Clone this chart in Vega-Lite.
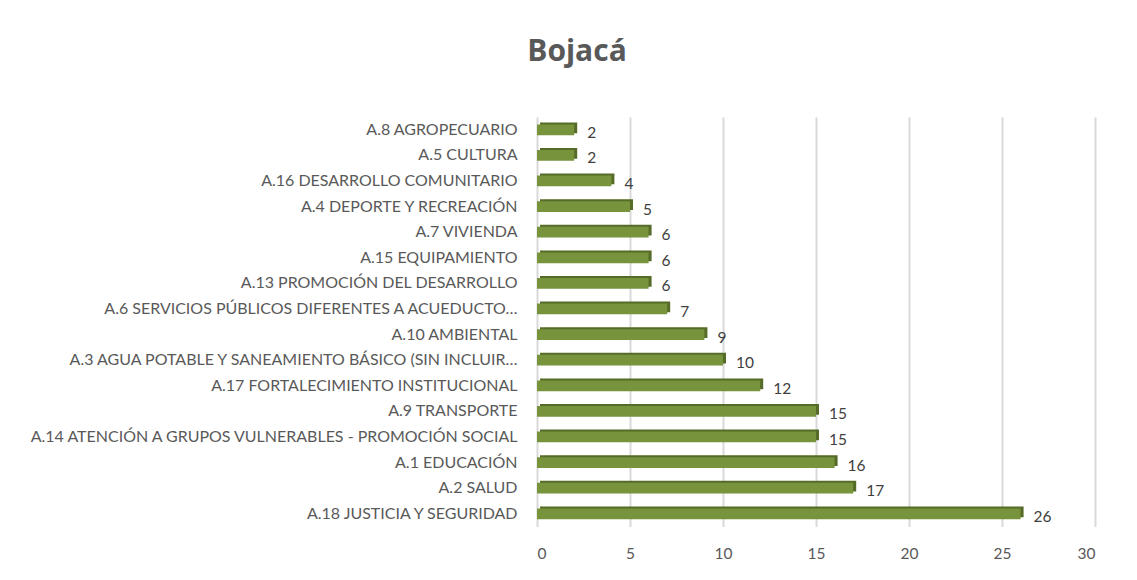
{
  "$schema": "https://vega.github.io/schema/vega-lite/v6.json",
  "autosize": {"type": "none"},
  "width": 558,
  "height": 409.6,
  "padding": {"left": 537, "top": 117, "right": 42, "bottom": 53},
  "background": "white",
  "title": {
    "text": "Bojacá",
    "fontSize": 30,
    "fontWeight": "bold",
    "color": "#595959",
    "font": "Open Sans",
    "anchor": "middle",
    "frame": "group",
    "dx": -239,
    "offset": 50
  },
  "data": {
    "values": [
      {"categoria": "A.8 AGROPECUARIO", "valor": 2},
      {"categoria": "A.5 CULTURA", "valor": 2},
      {"categoria": "A.16 DESARROLLO COMUNITARIO", "valor": 4},
      {"categoria": "A.4 DEPORTE Y RECREACIÓN", "valor": 5},
      {"categoria": "A.7 VIVIENDA", "valor": 6},
      {"categoria": "A.15 EQUIPAMIENTO", "valor": 6},
      {"categoria": "A.13 PROMOCIÓN DEL DESARROLLO", "valor": 6},
      {"categoria": "A.6 SERVICIOS PÚBLICOS DIFERENTES A ACUEDUCTO…", "valor": 7},
      {"categoria": "A.10 AMBIENTAL", "valor": 9},
      {"categoria": "A.3 AGUA POTABLE Y SANEAMIENTO BÁSICO (SIN INCLUIR…", "valor": 10},
      {"categoria": "A.17 FORTALECIMIENTO INSTITUCIONAL", "valor": 12},
      {"categoria": "A.9 TRANSPORTE", "valor": 15},
      {"categoria": "A.14 ATENCIÓN A GRUPOS VULNERABLES - PROMOCIÓN SOCIAL", "valor": 15},
      {"categoria": "A.1 EDUCACIÓN", "valor": 16},
      {"categoria": "A.2 SALUD", "valor": 17},
      {"categoria": "A.18 JUSTICIA Y SEGURIDAD", "valor": 26}
    ]
  },
  "encoding": {
    "y": {
      "field": "categoria",
      "type": "nominal",
      "sort": null,
      "scale": {"paddingInner": 0.58, "paddingOuter": 0.29},
      "axis": {
        "title": null,
        "domain": false,
        "ticks": false,
        "labelPadding": 20,
        "labelFont": "Lato",
        "labelFontSize": 16,
        "labelColor": "#595959",
        "labelLimit": 600
      }
    },
    "x": {
      "field": "valor",
      "type": "quantitative",
      "scale": {"domain": [0, 30]},
      "axis": {
        "title": null,
        "values": [0, 5, 10, 15, 20, 25, 30],
        "domain": false,
        "ticks": false,
        "grid": true,
        "gridColor": "#D9D9D9",
        "gridWidth": 2,
        "labelPadding": 20,
        "labelFont": "Lato",
        "labelFontSize": 15.5,
        "labelColor": "#595959"
      }
    }
  },
  "layer": [
    {
      "mark": {"type": "bar", "color": "#556B27", "xOffset": 3, "yOffset": -2}
    },
    {
      "mark": {"type": "bar", "color": "#77933C"}
    },
    {
      "mark": {"type": "text", "align": "left", "dx": 13, "dy": 3, "font": "Lato", "fontSize": 15.5, "color": "#404040"},
      "encoding": {"text": {"field": "valor", "type": "quantitative"}}
    }
  ],
  "config": {"view": {"stroke": null}}
}
